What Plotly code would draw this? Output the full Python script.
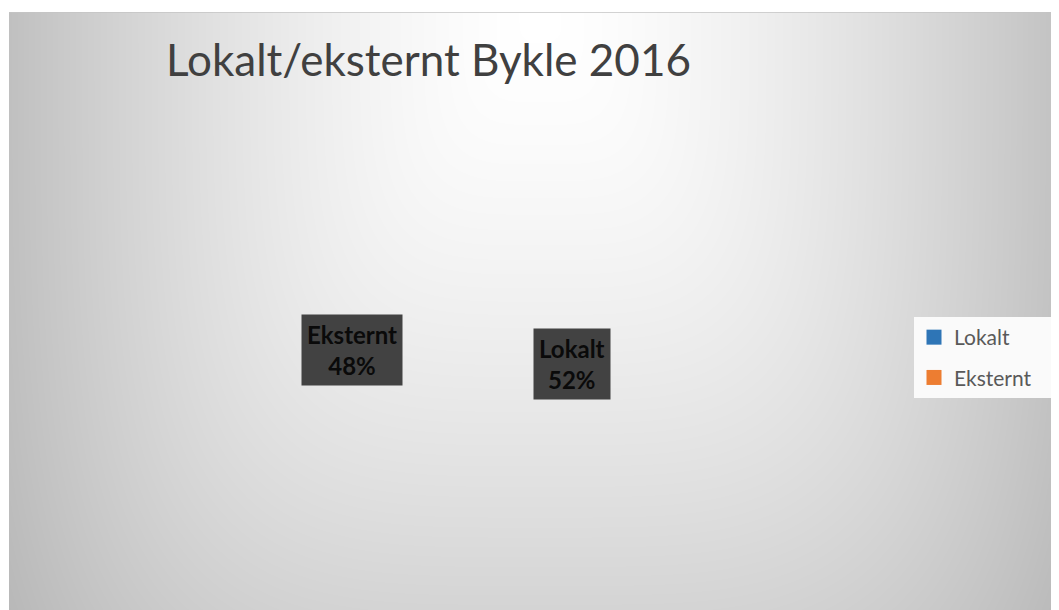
import numpy as np
import plotly.graph_objects as go

# ---- data ----
labels = ["Lokalt", "Eksternt"]
values = [52, 48]
colors = ["#2E75B6", "#ED7D31"]
title_text = "Lokalt/eksternt Bykle 2016"

# ---- canvas geometry (screen pixels; page body adds an 8px offset) ----
OFF = 8
W, H = 1059, 610
L, T = 9, 12
PW, PH = W - L, H - T

# background: rectangular-ish radial gradient from top centre (style only)
gx = np.linspace(L, W, 106)
gy = np.linspace(T, H, 61)
X, Y = np.meshgrid(gx, gy)
cx, cy = 540, 12
tt = ((np.abs(X - cx) / 531) ** 4 + (np.abs(Y - cy) / 770) ** 4) ** 0.25
Z = np.clip(255 - 63 * tt ** 1.5, 150, 255)

fig = go.Figure()
fig.add_trace(go.Heatmap(
    x=gx, y=gy, z=Z, zmin=0, zmax=255, zsmooth="best",
    colorscale=[[0, "rgb(0,0,0)"], [1, "rgb(255,255,255)"]],
    showscale=False, hoverinfo="skip", showlegend=False,
))

# pie (slices rendered invisible, as in the reference)
pcx, pcy, rad = 462, 357, 110
pr = 165
fig.add_trace(go.Pie(
    labels=labels, values=values, sort=False, direction="clockwise", rotation=0,
    marker=dict(colors=["rgba(0,0,0,0)"] * len(values), line=dict(width=0)),
    textinfo="none", hoverinfo="label+percent", showlegend=False,
    domain=dict(x=[(pcx - pr - L) / PW, (pcx + pr - L) / PW],
                y=[(H - pcy - pr) / PH, (H - pcy + pr) / PH]),
))

# legend entries
for lab, col in zip(labels, colors):
    fig.add_trace(go.Scatter(
        x=[None], y=[None], mode="markers", name=lab, legendgroup=lab,
        marker=dict(symbol="square", size=15, color=col),
    ))

# data labels computed from values
total = float(sum(values))
cum = 0.0
for lab, v in zip(labels, values):
    mid = (cum + v / 2) / total * 2 * np.pi
    cum += v
    x = pcx + rad * np.sin(mid)
    y = pcy - rad * np.cos(mid)
    pct = f"{round(100 * v / total)}%"
    fig.add_annotation(
        x=x, y=y, xref="x", yref="y", text=f"<b>{lab}<br>{pct}</b>",
        showarrow=False, bgcolor="#424242", borderpad=5,
        font=dict(family="Lato", size=24, color="#0a0a0a"),
    )

# chart top border
fig.add_shape(type="line", xref="x", yref="y", x0=L, x1=W, y0=T, y1=T,
              line=dict(color="#c4c4c4", width=1.5))
# legend background panel
fig.add_shape(type="rect", xref="x", yref="y", x0=914, x1=1055, y0=317, y1=398,
              fillcolor="#fafafa", line=dict(width=0), layer="above")

fig.update_layout(
    width=W - OFF, height=H - OFF,
    margin=dict(l=L - OFF, r=0, t=T - OFF, b=0),
    paper_bgcolor="white", plot_bgcolor="white",
    xaxis=dict(range=[L, W], visible=False, fixedrange=True),
    yaxis=dict(range=[H, T], visible=False, fixedrange=True),
    title=dict(text=title_text, x=(166 - L) / PW, xref="paper", xanchor="left",
               y=1 - (61 - OFF) / (H - OFF), yref="container", yanchor="middle",
               font=dict(family="Lato", size=44, color="#404040")),
    legend=dict(x=(914 - L) / PW, y=(H - 317) / PH, xanchor="left", yanchor="top",
                bgcolor="rgba(0,0,0,0)", font=dict(family="Lato", size=21, color="#595959"),
                traceorder="grouped", tracegroupgap=10, itemwidth=30),
    showlegend=True,
)

fig.write_html("out.html")
